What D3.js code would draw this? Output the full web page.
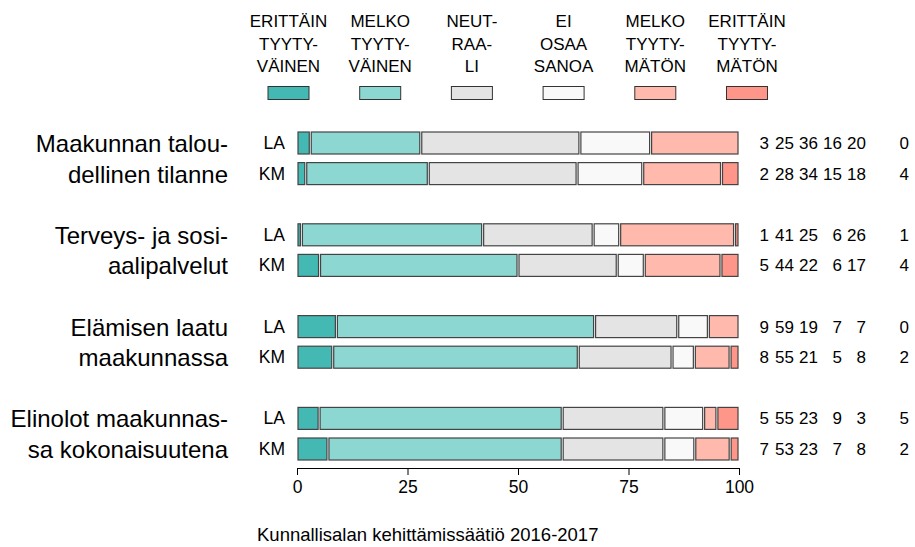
<!DOCTYPE html>
<html>
<head>
<meta charset="utf-8">
<script src="https://cdn.jsdelivr.net/npm/d3@7"></script>
<style>
  body { margin: 0; background: #fff; }
  text { font-family: "Liberation Sans", Arial, sans-serif; fill: #000; }
</style>
</head>
<body>
<svg id="chart" width="915" height="547"></svg>
<script>
// legend categories (three lines each)
const legendLines = [
  ["ERITTÄIN", "TYYTY-", "VÄINEN"],
  ["MELKO", "TYYTY-", "VÄINEN"],
  ["NEUT-", "RAA-", "LI"],
  ["EI", "OSAA", "SANOA"],
  ["MELKO", "TYYTY-", "MÄTÖN"],
  ["ERITTÄIN", "TYYTY-", "MÄTÖN"]
];
const colors = ["#44b8b3", "#8dd7d2", "#e4e4e4", "#f9f9f9", "#ffb9ad", "#ff968a"];

const groupLabels = [
  ["Maakunnan talou-", "dellinen tilanne"],
  ["Terveys- ja sosi-", "aalipalvelut"],
  ["Elämisen laatu", "maakunnassa"],
  ["Elinolot maakunnas-", "sa kokonaisuutena"]
];
const rowLabels = ["LA", "KM"];

const laValues = [
  [3, 25, 36, 16, 20, 0],
  [1, 41, 25, 6, 26, 1],
  [9, 59, 19, 7, 7, 0],
  [5, 55, 23, 9, 3, 5]
];
const kmValues = [
  [2, 28, 34, 15, 18, 4],
  [5, 44, 22, 6, 17, 4],
  [8, 55, 21, 5, 8, 2],
  [7, 53, 23, 7, 8, 2]
];
const xTicks = [0, 25, 50, 75, 100];
const caption = "Kunnallisalan kehittämissäätiö 2016-2017";

var svg = d3.select("#chart");

var x = d3.scaleLinear().domain([0, 100]).range([297, 739]);
// row slots: LA=0, KM=1, one empty slot between groups
var y = d3.scaleLinear().domain([0, 10]).range([143, 449]);
var barH = 22;

var rows = [];
groupLabels.forEach((g, gi) => {
  [laValues[gi], kmValues[gi]].forEach((vals, ri) => {
    rows.push({ group: gi, sub: ri, label: rowLabels[ri], vals: vals, slot: gi * 3 + ri });
  });
});

//////////////////////// legend ////////////////////////
var lx = d3.scalePoint().domain(d3.range(legendLines.length)).range([288.5, 747]);
var legend = svg.append("g");
legendLines.forEach((lines, i) => {
  lines.forEach((t, j) => {
    legend.append("text")
      .attr("x", lx(i))
      .attr("y", 27 + j * 22.5)
      .attr("text-anchor", "middle")
      .style("font-size", "17px")
      .text(t);
  });
  legend.append("rect")
    .attr("x", lx(i) - 20.5)
    .attr("y", 86.5)
    .attr("width", 41)
    .attr("height", 13)
    .attr("fill", colors[i])
    .attr("stroke", "#333")
    .attr("stroke-width", 1);
});

//////////////////////// bars ////////////////////////
var g = svg.append("g");
var colX = [769, 794, 818, 842, 866, 909];
rows.forEach(r => {
  var total = d3.sum(r.vals);
  var cum = 0;
  var cy = y(r.slot);
  r.vals.forEach((v, i) => {
    var x0 = x(cum / total * 100);
    cum += v;
    var x1 = x(cum / total * 100);
    if (v === 0) return;
    g.append("rect")
      .attr("x", x0 + 1)
      .attr("y", cy - barH / 2)
      .attr("width", Math.max(0.5, x1 - x0 - 2))
      .attr("height", barH)
      .attr("fill", colors[i])
      .attr("stroke", "#444")
      .attr("stroke-width", 1.2);
  });

  g.append("text")
    .attr("x", 285)
    .attr("y", cy + 6)
    .attr("text-anchor", "end")
    .style("font-size", "17.5px")
    .text(r.label);

  // value columns, right aligned
  r.vals.forEach((v, i) => {
    g.append("text")
      .attr("x", colX[i])
      .attr("y", cy + 6)
      .attr("text-anchor", "end")
      .style("font-size", "17px")
      .text(v);
  });
});

// group labels
groupLabels.forEach((lines, gi) => {
  lines.forEach((t, j) => {
    svg.append("text")
      .attr("x", 228)
      .attr("y", y(gi * 3 + j) + 9)
      .attr("text-anchor", "end")
      .style("font-size", "24px")
      .text(t);
  });
});

//////////////////////// axis ////////////////////////
var axis = svg.append("g")
  .attr("transform", "translate(0,468)")
  .call(d3.axisBottom(x).tickValues(xTicks).tickSize(7).tickSizeOuter(7).tickPadding(6));
axis.select(".domain").attr("stroke", "#000");
axis.selectAll(".tick line").attr("stroke", "#000");
axis.selectAll(".tick text")
  .style("font-size", "17.5px")
  .style("font-family", "'Liberation Sans', Arial, sans-serif")
  .attr("fill", "#000");

svg.append("text")
  .attr("x", 257)
  .attr("y", 541)
  .style("font-size", "18.5px")
  .text(caption);
</script>
</body>
</html>
